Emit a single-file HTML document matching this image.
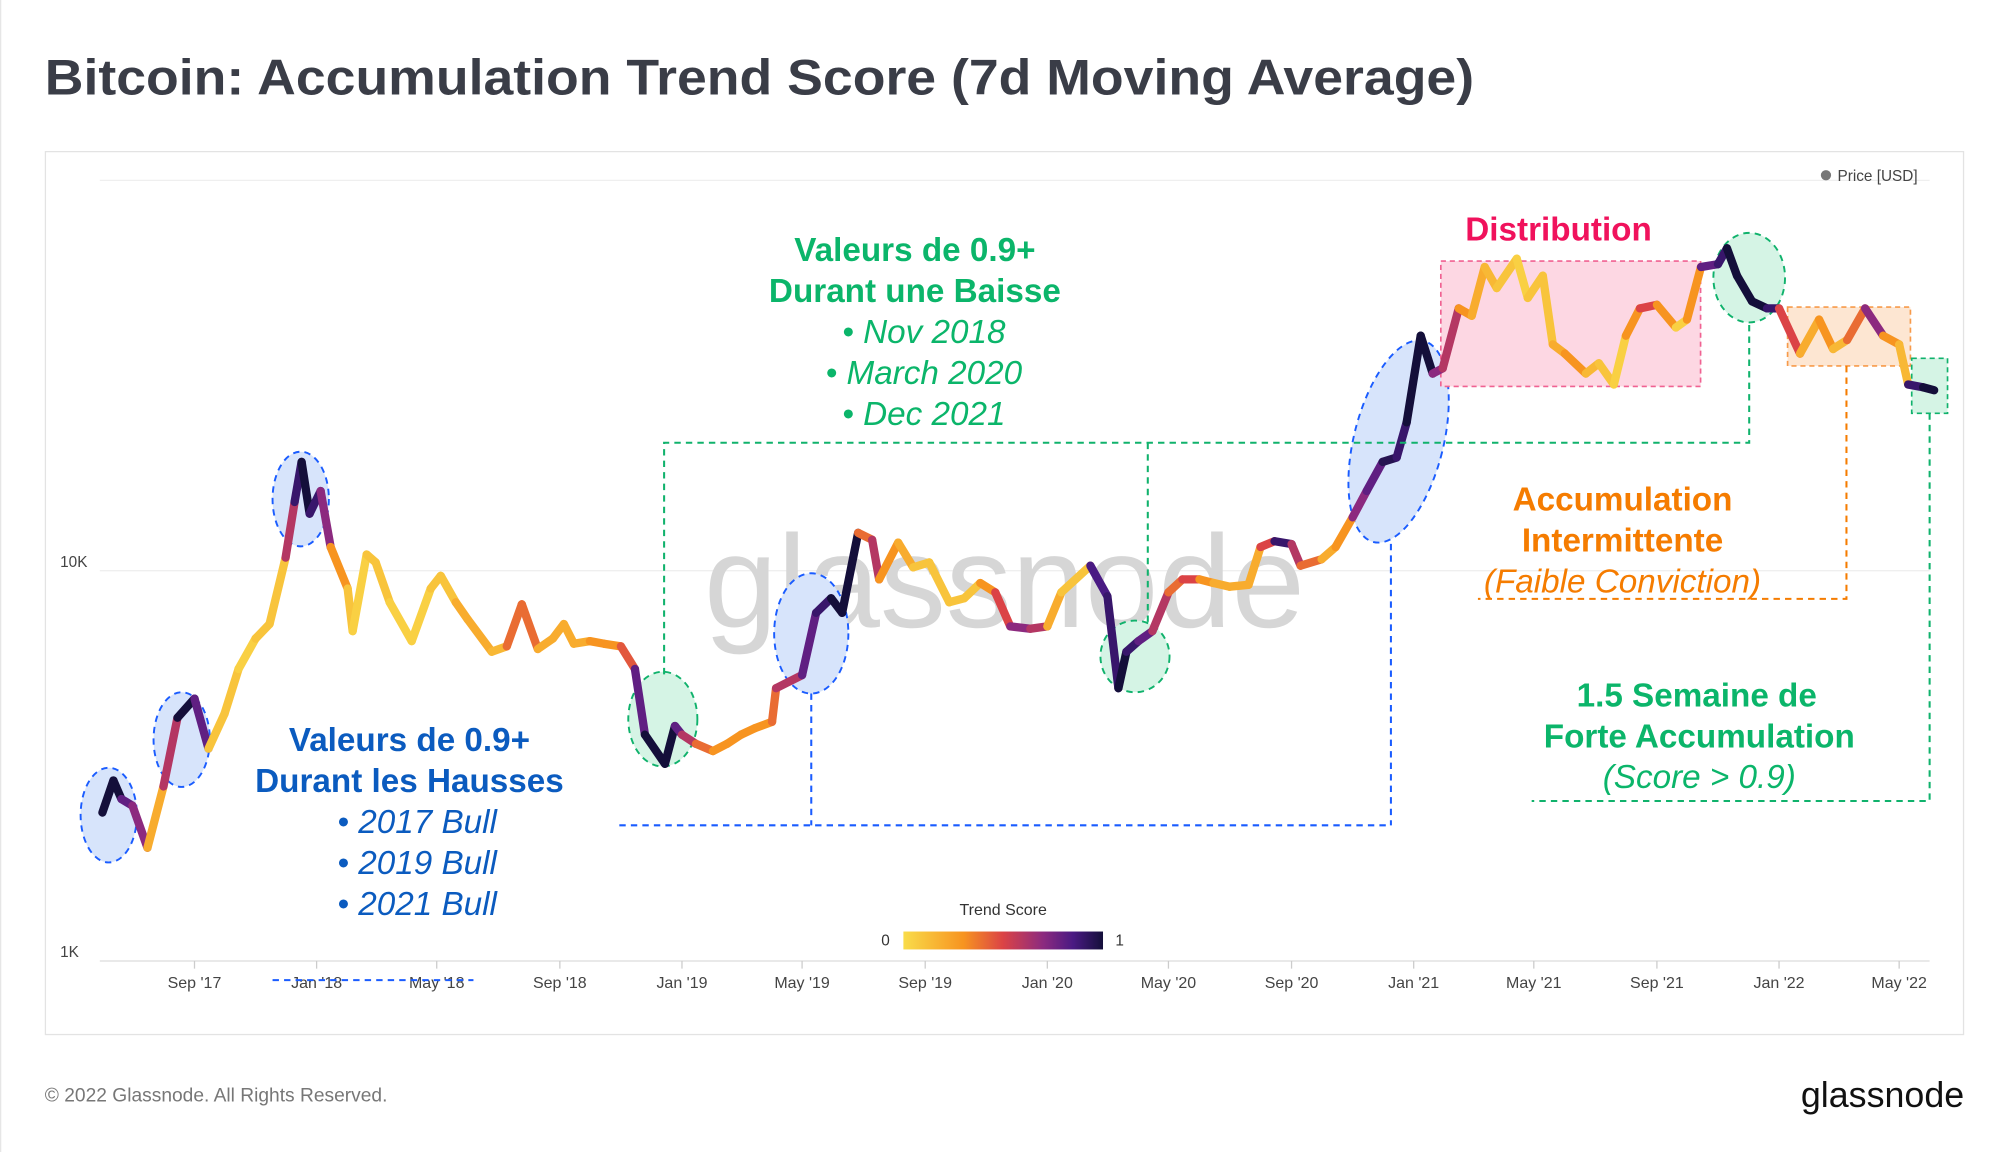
<!DOCTYPE html>
<html><head><meta charset="utf-8"><style>
html,body{margin:0;padding:0;background:#fff;}
svg{display:block;font-family:"Liberation Sans",sans-serif;}
</style></head><body>
<svg id="chart" width="2000" height="1152" viewBox="0 0 1563 900.3" preserveAspectRatio="none" xmlns="http://www.w3.org/2000/svg">
<rect x="0" y="0" width="1563" height="901" fill="#fff"/>
<line x1="0.5" y1="0" x2="0.5" y2="901" stroke="#e6e6e6"/>
<text x="35" y="74" font-size="39" font-weight="bold" fill="#3a3d47" textLength="1117" lengthAdjust="spacingAndGlyphs">Bitcoin: Accumulation Trend Score (7d Moving Average)</text>
<rect x="35.5" y="118.5" width="1499" height="690" fill="#fff" stroke="#e3e3e3"/>
<g id="grid"></g>
<text x="785" y="490" font-size="103" fill="#d6d6d6" text-anchor="middle">glassnode</text>
<g id="annot-back"></g>
<g id="series"></g>
<g id="annot-lines" fill="none" stroke-width="1.6" stroke-dasharray="5,4">
 <polyline points="519,527 519,346 1367,346 1367,253" stroke="#10b26c"/>
 <line x1="897" y1="346" x2="897" y2="486" stroke="#10b26c"/>
 <polyline points="1508,323 1508,626 1197,626" stroke="#10b26c"/>
 <line x1="484" y1="645" x2="1087" y2="645" stroke="#1a5cff"/>
 <line x1="634" y1="542" x2="634" y2="645" stroke="#1a5cff"/>
 <line x1="1087" y1="425" x2="1087" y2="645" stroke="#1a5cff"/>
 <line x1="213" y1="766" x2="370" y2="766" stroke="#1a5cff"/>
 <polyline points="1443,286 1443,468 1155,468" stroke="#f57c00"/>
</g>
<g font-size="26" text-anchor="middle">
 <g fill="#0bb56a">
  <text x="715" y="204" font-weight="bold">Valeurs de 0.9+</text>
  <text x="715" y="236" font-weight="bold">Durant une Baisse</text>
  <text x="722" y="268" font-style="italic">•  Nov 2018</text>
  <text x="722" y="300" font-style="italic">•  March 2020</text>
  <text x="722" y="332" font-style="italic">•  Dec 2021</text>
 </g>
 <g fill="#0b5bbf">
  <text x="320" y="587" font-weight="bold">Valeurs de 0.9+</text>
  <text x="320" y="619" font-weight="bold">Durant les Hausses</text>
  <text x="326" y="651" font-style="italic">•  2017 Bull</text>
  <text x="326" y="683" font-style="italic">•  2019 Bull</text>
  <text x="326" y="715" font-style="italic">•  2021 Bull</text>
 </g>
 <text x="1218" y="188" fill="#f0125c" font-weight="bold">Distribution</text>
 <g fill="#f57c00">
  <text x="1268" y="399" font-weight="bold">Accumulation</text>
  <text x="1268" y="431" font-weight="bold">Intermittente</text>
  <text x="1268" y="463" font-style="italic">(Faible Conviction)</text>
 </g>
 <g fill="#0bb56a">
  <text x="1326" y="552" font-weight="bold">1.5 Semaine de</text>
  <text x="1328" y="584" font-weight="bold">Forte Accumulation</text>
  <text x="1328" y="616" font-style="italic">(Score &gt; 0.9)</text>
 </g>
</g>
<g>
 <circle cx="1427" cy="137" r="4" fill="#777"/>
 <text x="1436" y="141.5" font-size="12" fill="#444">Price [USD]</text>
</g>
<defs><linearGradient id="cb" x1="0" x2="1" y1="0" y2="0">
 <stop offset="0" stop-color="#f9dc4a"/><stop offset="0.3" stop-color="#f79420"/><stop offset="0.5" stop-color="#db4346"/><stop offset="0.7" stop-color="#8c2a7f"/><stop offset="0.85" stop-color="#4a1a83"/><stop offset="1" stop-color="#140f3a"/>
</linearGradient></defs>
<g>
 <text x="784" y="715" font-size="12.5" fill="#333" text-anchor="middle">Trend Score</text>
 <rect x="706" y="728" width="156" height="14" fill="url(#cb)"/>
 <text x="692" y="739" font-size="12" fill="#333" text-anchor="middle">0</text>
 <text x="875" y="739" font-size="12" fill="#333" text-anchor="middle">1</text>
</g>
<text x="35" y="861" font-size="15" fill="#777">© 2022 Glassnode. All Rights Reserved.</text>
<text x="1535" y="865" font-size="28" fill="#111" text-anchor="end">glassnode</text>
</svg>
<script>
const dates = ["2017-06-01","2017-06-12","2017-06-20","2017-07-01","2017-07-16","2017-08-01","2017-08-15","2017-09-01","2017-09-15","2017-10-01","2017-10-15","2017-11-01","2017-11-15","2017-12-01","2017-12-10","2017-12-17","2017-12-25","2018-01-05","2018-01-15","2018-02-01","2018-02-06","2018-02-20","2018-03-01","2018-03-15","2018-04-06","2018-04-25","2018-05-05","2018-05-20","2018-06-01","2018-06-25","2018-07-10","2018-07-25","2018-08-10","2018-08-25","2018-09-05","2018-09-15","2018-10-01","2018-10-15","2018-11-01","2018-11-15","2018-11-25","2018-12-15","2018-12-25","2019-01-01","2019-01-15","2019-02-01","2019-02-15","2019-03-01","2019-03-15","2019-04-01","2019-04-05","2019-05-01","2019-05-15","2019-05-30","2019-06-10","2019-06-26","2019-07-10","2019-07-17","2019-08-05","2019-08-20","2019-09-05","2019-09-25","2019-10-10","2019-10-26","2019-11-10","2019-11-25","2019-12-15","2020-01-01","2020-01-15","2020-02-13","2020-03-01","2020-03-12","2020-03-20","2020-04-01","2020-04-15","2020-05-01","2020-05-15","2020-06-01","2020-06-15","2020-07-01","2020-07-20","2020-08-01","2020-08-15","2020-09-01","2020-09-10","2020-10-01","2020-10-15","2020-11-01","2020-11-15","2020-12-01","2020-12-15","2020-12-25","2021-01-08","2021-01-20","2021-01-30","2021-02-15","2021-02-28","2021-03-13","2021-03-25","2021-04-14","2021-04-25","2021-05-10","2021-05-20","2021-06-01","2021-06-22","2021-07-05","2021-07-20","2021-08-01","2021-08-15","2021-09-01","2021-09-20","2021-10-01","2021-10-15","2021-11-01","2021-11-10","2021-11-20","2021-12-05","2021-12-20","2022-01-01","2022-01-22","2022-02-10","2022-02-24","2022-03-10","2022-03-28","2022-04-15","2022-05-01","2022-05-10","2022-05-25","2022-06-05"];
const prices = [2400,2900,2600,2500,1950,2800,4200,4700,3500,4300,5600,6700,7300,10800,15000,19000,14000,16000,11500,9000,7000,11000,10500,8300,6600,9000,9700,8300,7500,6200,6400,8200,6300,6700,7300,6500,6600,6500,6400,5600,3800,3200,4000,3800,3600,3450,3600,3800,3950,4100,5000,5400,7800,8500,7800,12500,12000,9500,11800,10200,10500,8300,8500,9300,8800,7200,7100,7200,8800,10300,8600,5000,6200,6600,7000,8800,9500,9500,9300,9100,9200,11500,11900,11700,10300,10700,11500,13700,16000,19000,19500,24000,40000,32000,33000,47000,45000,60000,53000,63000,50000,57000,38000,36000,32000,34000,30000,40000,47000,48000,42000,44000,60000,61000,67000,57000,49000,47000,47000,36000,44000,37000,39000,47000,40000,38000,30000,29500,29000];
const scores = [1,1,0.8,0.7,0.2,0.6,1,0.8,0.1,0.1,0.05,0.1,0.1,0.6,0.9,1,0.9,0.7,0.3,0.1,0.05,0.1,0.1,0.05,0.05,0.1,0.1,0.2,0.2,0.15,0.4,0.4,0.2,0.2,0.2,0.2,0.3,0.3,0.45,0.8,1,1,0.8,0.6,0.4,0.3,0.3,0.3,0.3,0.4,0.6,0.8,0.9,1,1,0.4,0.6,0.3,0.2,0.1,0.1,0.1,0.1,0.3,0.5,0.7,0.6,0.2,0.1,0.85,0.9,1,0.9,0.8,0.6,0.4,0.5,0.3,0.2,0.2,0.2,0.5,0.9,0.6,0.4,0.2,0.3,0.7,0.8,0.95,0.9,1,1,0.7,0.6,0.3,0.2,0.15,0.1,0.05,0.1,0.1,0.2,0.3,0.15,0.1,0.05,0.3,0.5,0.3,0.05,0.3,0.8,0.9,1,1,1,0.9,0.5,0.2,0.3,0.15,0.4,0.7,0.3,0.15,0.9,1,1];
const xTickLabels = ["Sep '17","Jan '18","May '18","Sep '18","Jan '19","May '19","Sep '19","Jan '20","May '20","Sep '20","Jan '21","May '21","Sep '21","Jan '22","May '22"];
const xTickDates = ["2017-09-01","2018-01-01","2018-05-01","2018-09-01","2019-01-01","2019-05-01","2019-09-01","2020-01-01","2020-05-01","2020-09-01","2021-01-01","2021-05-01","2021-09-01","2022-01-01","2022-05-01"];
const yTickLabels = ["1K","10K"];
const yTickValues = [1000,10000];

const NS="http://www.w3.org/2000/svg";
const t0=Date.parse("2017-09-01");
function xScale(d){return 152+(Date.parse(d)-t0)/86400000*(23.81*12/365.25);}
function yScale(p){return 751-305*Math.log10(p/1000);}
const stops=[[0,[249,220,74]],[0.3,[247,148,32]],[0.5,[219,67,70]],[0.7,[140,42,127]],[0.85,[74,26,131]],[1,[20,15,58]]];
function color(s){s=Math.max(0,Math.min(1,s));for(let i=1;i<stops.length;i++){if(s<=stops[i][0]){const a=stops[i-1],b=stops[i],t=(s-a[0])/(b[0]-a[0]);return "rgb("+a[1].map((v,k)=>Math.round(v+(b[1][k]-v)*t)).join(",")+")";}}return "rgb(20,15,58)";}
function mk(tag,attrs,parent){const e=document.createElementNS(NS,tag);for(const k in attrs)e.setAttribute(k,attrs[k]);parent.appendChild(e);return e;}

const grid=document.getElementById('grid');
[141,446,751].forEach((y,i)=>{const l=mk('line',{x1:78,x2:1508,y1:y,y2:y,stroke:i==2?'#dcdcdc':'#efefef','stroke-width':1},grid);

});
yTickValues.forEach((v,i)=>{const t=mk('text',{x:47,y:yScale(v)-3,'font-size':12,fill:'#444'},grid);t.textContent=yTickLabels[i];

});
xTickDates.forEach((d,i)=>{const x=xScale(d);mk('line',{x1:x,x2:x,y1:751,y2:757,stroke:'#ccc'},grid);
const t=mk('text',{x:x,y:772,'font-size':12.5,fill:'#444','text-anchor':'middle'},grid);t.textContent=xTickLabels[i];

});

const back=document.getElementById('annot-back');
function ell(cx,cy,rx,ry,rot,fill,stroke,name){const e=mk('ellipse',{cx,cy,rx,ry,transform:`rotate(${rot} ${cx} ${cy})`,fill,stroke,'stroke-width':1.5,'stroke-dasharray':'5,4'},back);

}
function rct(x,y,w,h,fill,stroke,name){const e=mk('rect',{x,y,width:w,height:h,fill,stroke,'stroke-width':1.3,'stroke-dasharray':'4,3'},back);

}
const BF='#d7e4fb',BS='#1a5cff',GF='#d5f4e5',GS='#10b26c';
ell(85,637,22,37,0,BF,BS,'bull-2017-early-highlight');
ell(142,578,22,37,0,BF,BS,'bull-2017-mid-highlight');
ell(235,390,22,37,0,BF,BS,'bull-2017-peak-highlight');
ell(634,495,29,47,0,BF,BS,'bull-2019-highlight');
ell(1093,345,35,81,14,BF,BS,'bull-2021-highlight');
ell(518,562,27,37,0,GF,GS,'bear-2018-highlight');
ell(887,513,27,28,0,GF,GS,'bear-2020-highlight');
ell(1367,217,28,35,0,GF,GS,'bear-2021-highlight');
rct(1126,204,203,98,'#fdd7e3','#f06292','distribution-box');
rct(1397,240,96,46,'#fde6d2','#f79a4a','accumulation-box');
rct(1494,280,28,43,'#d5f4e5','#10b26c','strong-accumulation-box');

const ser=document.getElementById('series');
for(let i=0;i<prices.length-1;i++){
 const l=mk('line',{x1:xScale(dates[i]),y1:yScale(prices[i]),x2:xScale(dates[i+1]),y2:yScale(prices[i+1]),stroke:color(scores[i]),'stroke-width':6.5,'stroke-linecap':'round'},ser);
 
 
}
</script>
</body></html>
